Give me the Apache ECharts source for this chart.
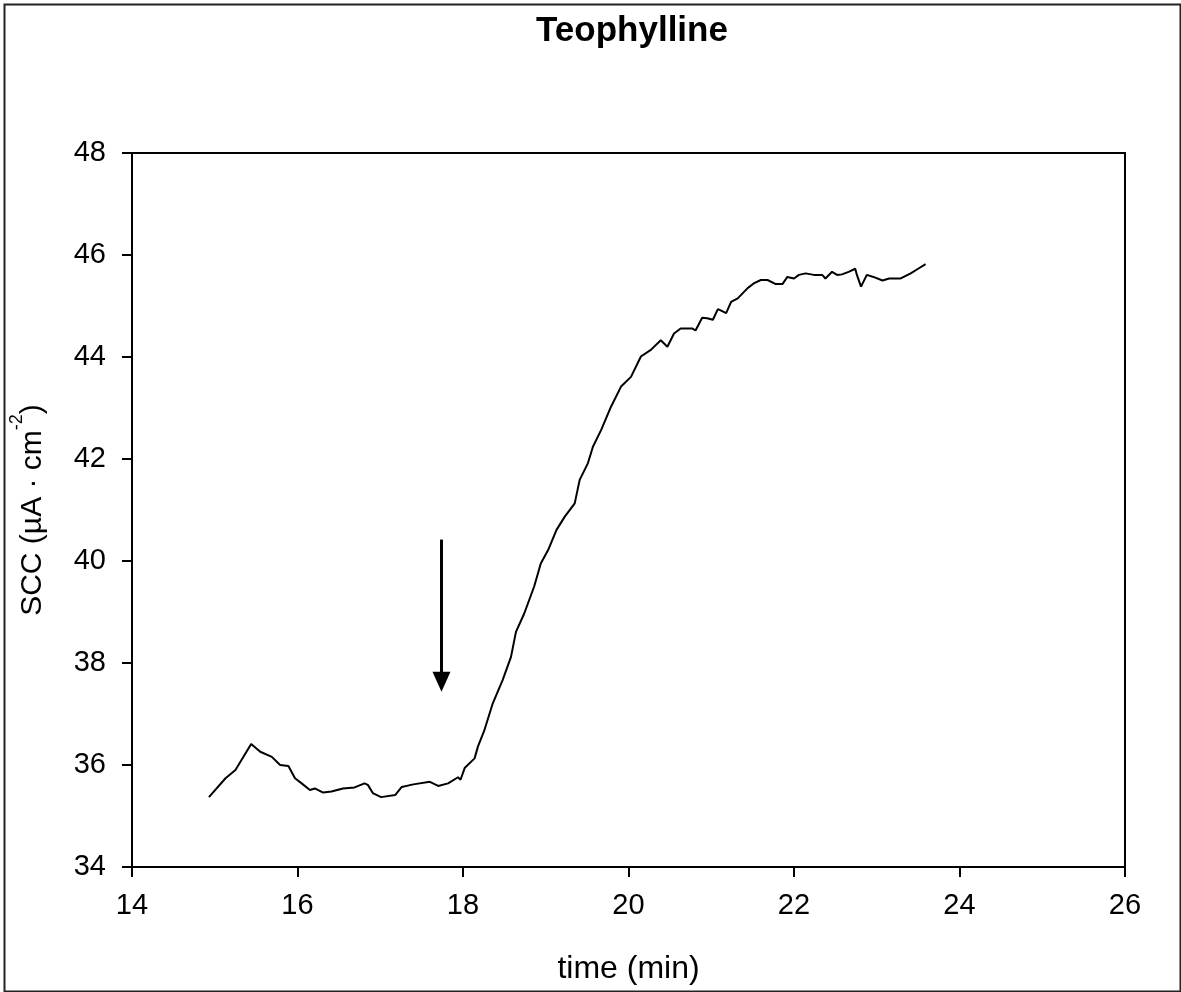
<!DOCTYPE html>
<html>
<head>
<meta charset="utf-8">
<script src="https://cdn.jsdelivr.net/npm/echarts@6/dist/echarts.min.js"></script>
<style>html,body{margin:0;padding:0;background:#fff;}#c{width:1181px;height:992px;}</style>
</head>
<body>
<div id="c"></div>
<script>
const titleText = 'Teophylline';
const xName = 'time (min)';
const xTicks = [14, 16, 18, 20, 22, 24, 26];
const yTicks = [34, 36, 38, 40, 42, 44, 46, 48];
const times = [14.93,15.13,15.25,15.44,15.55,15.69,15.79,15.89,15.97,16.05,
16.15,16.21,16.31,16.41,16.55,16.69,16.81,16.85,16.91,17.01,
17.18,17.26,17.40,17.60,17.70,17.82,17.94,17.97,18.02,18.14,
18.18,18.26,18.36,18.48,18.58,18.64,18.74,18.86,18.94,19.03,
19.13,19.23,19.35,19.41,19.51,19.57,19.67,19.79,19.91,20.03,
20.15,20.27,20.39,20.47,20.55,20.63,20.77,20.81,20.89,20.95,
21.02,21.08,21.12,21.18,21.24,21.32,21.44,21.52,21.60,21.68,
21.78,21.86,21.92,22.00,22.06,22.14,22.24,22.34,22.38,22.46,
22.52,22.58,22.66,22.74,22.76,22.81,22.88,22.96,23.07,23.15,
23.29,23.41,23.51,23.59];
const scc = [35.37,35.74,35.90,36.41,36.26,36.16,36.00,35.98,35.74,35.64,
35.51,35.54,35.46,35.48,35.54,35.56,35.64,35.61,35.45,35.37,
35.41,35.57,35.62,35.67,35.59,35.64,35.76,35.71,35.94,36.13,
36.36,36.69,37.21,37.67,38.12,38.61,38.97,39.50,39.95,40.22,
40.61,40.87,41.13,41.59,41.92,42.24,42.57,43.03,43.42,43.61,
44.01,44.14,44.33,44.20,44.46,44.56,44.56,44.52,44.77,44.76,
44.73,44.94,44.91,44.86,45.08,45.15,45.35,45.45,45.51,45.51,
45.43,45.43,45.57,45.54,45.61,45.64,45.61,45.61,45.54,45.67,
45.61,45.62,45.67,45.73,45.61,45.38,45.61,45.57,45.50,45.54,
45.54,45.64,45.74,45.82];
const arrowTime = 17.74;
const arrowFrom = 40.42;
const arrowTo = 37.63;

const font = 'Liberation Sans, Arial, sans-serif';
const chart = echarts.init(document.getElementById('c'), null, {renderer: 'canvas'});
const data = times.map((t, i) => [t, scc[i]]);

chart.setOption({
  animation: false,
  backgroundColor: '#fff',
  title: {
    text: titleText,
    left: 627, top: 9, textAlign: 'center',
    textStyle: {fontFamily: font, fontSize: 35, fontWeight: 'bold', color: '#000'}
  },
  grid: {left: 130, top: 153, right: 56, bottom: 125, show: true, borderColor: '#000', borderWidth: 2, backgroundColor: 'transparent'},
  xAxis: {
    type: 'value', min: xTicks[0], max: xTicks[xTicks.length - 1], interval: 2,
    name: xName, nameLocation: 'middle', nameGap: 86,
    nameTextStyle: {fontFamily: font, fontSize: 32, color: '#000'},
    axisLine: {lineStyle: {color: '#000', width: 2}},
    axisTick: {show: true, length: 10, lineStyle: {color: '#000', width: 2}},
    axisLabel: {fontFamily: font, fontSize: 29, color: '#000', margin: 24},
    splitLine: {show: false}
  },
  yAxis: {
    type: 'value', min: yTicks[0], max: yTicks[yTicks.length - 1], interval: 2,
    name: '{a|SCC (µA · cm}{s|-2}{a|)}', nameLocation: 'middle', nameGap: 84,
    nameTextStyle: {
      fontFamily: font, fontSize: 30, color: '#000',
      rich: {
        a: {fontFamily: font, fontSize: 30, color: '#000', lineHeight: 40, verticalAlign: 'bottom'},
        s: {fontFamily: font, fontSize: 18, color: '#000', lineHeight: 40, verticalAlign: 'top'}
      }
    },
    axisLine: {lineStyle: {color: '#000', width: 2}},
    axisTick: {show: true, length: 10, lineStyle: {color: '#000', width: 2}},
    axisLabel: {fontFamily: font, fontSize: 29, color: '#000', margin: 26},
    splitLine: {show: false}
  },
  series: [{
    type: 'line', data: data, showSymbol: false, symbol: 'none',
    lineStyle: {color: '#000', width: 2},
    markLine: {
      silent: true, animation: false,
      symbol: ['none', 'triangle'], symbolSize: [18, 20],
      label: {show: false},
      lineStyle: {color: '#000', width: 3, type: 'solid'},
      data: [[{coord: [arrowTime, arrowFrom]}, {coord: [arrowTime, arrowTo]}]]
    }
  }],
  graphic: [{
    type: 'rect', left: 2, top: 2, silent: true,
    shape: {width: 1176, height: 987},
    style: {fill: 'none', stroke: '#222', lineWidth: 2}
  }]
});
</script>
</body>
</html>
